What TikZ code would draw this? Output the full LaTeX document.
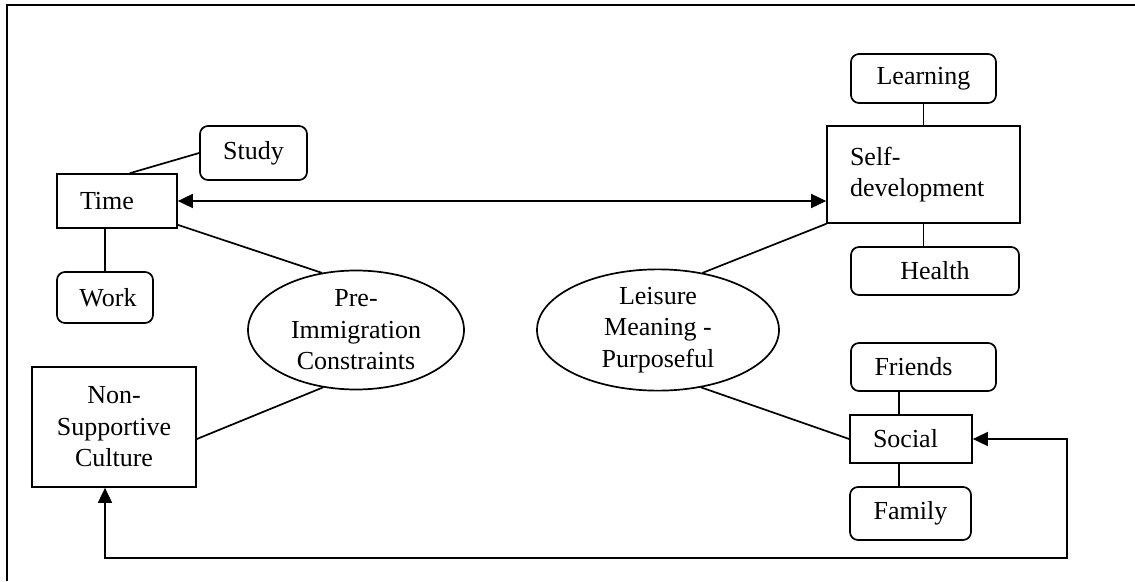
\documentclass[tikz,border=0pt]{standalone}
\usepackage{fontspec}
\setmainfont{Liberation Serif}
\usetikzlibrary{arrows.meta,shapes.geometric,calc}
\begin{document}
\begin{tikzpicture}[x=1pt,y=-1pt,
  every node/.style={font=\fontsize{26}{31.5}\selectfont, inner sep=0pt},
  link/.style={line width=1.7pt, line cap=round},
  arr/.style={line width=1.7pt, {Triangle[length=15pt,width=14pt]}-{Triangle[length=15pt,width=14pt]}},
  sqbox/.style={draw, line width=1.7pt, rectangle, align=center},
  rbox/.style={draw, line width=1.7pt, rectangle, rounded corners=8pt, align=center},
  oval/.style={draw, line width=1.7pt, ellipse, align=center}]
\useasboundingbox (0,0) rectangle (1135,581);
% frame
\draw[line width=2.2pt] (7,581) -- (7,5) -- (1135,5);
% nodes
\node[rbox, minimum width=107pt, minimum height=54pt] (study) at (253.5,153) {Study};
\node[sqbox, minimum width=120pt, minimum height=54pt, text width=74pt, inner xsep=23pt, align=left] (time) at (117,201) {Time};
\node[rbox, minimum width=96pt, minimum height=51pt] (work) at (105,297.5) {\hspace*{6pt}Work};
\node[sqbox, minimum width=164pt, minimum height=120pt] (nonsup) at (114,427) {Non-\\Supportive\\Culture};
\node[oval, minimum width=216pt, minimum height=119pt] (pre) at (356,330) {Pre-\\Immigration\\Constraints};
\node[oval, minimum width=242pt, minimum height=119pt] (leis) at (658,330) {Leisure\\Meaning -\\Purposeful};
\node[rbox, minimum width=145pt, minimum height=49pt] (learn) at (923.5,78.5) {Learning};
\node[sqbox, minimum width=193pt, minimum height=97pt, text width=147pt, inner xsep=23pt, align=left] (self) at (923.5,174.5) {Self-\\development};
\node[rbox, minimum width=168pt, minimum height=48pt] (health) at (935,271) {Health};
\node[rbox, minimum width=145pt, minimum height=48pt] (friends) at (923.5,367) {\hspace*{-20pt}Friends};
\node[sqbox, minimum width=122pt, minimum height=48pt, text width=76pt, inner xsep=23pt, align=left] (social) at (911,439) {Social};
\node[rbox, minimum width=121pt, minimum height=53pt] (family) at (910.5,513.5) {Family};
\coordinate (fbr) at (1067,558);
% connectors
\draw[link] ([xshift=13pt]time.north) -- (study.west);
\draw[link] (work.north) -- (work.north |- time.south);
\draw[link] ([yshift=4pt]time.south east) -- (pre.121);
\draw[link] ([yshift=-12pt]nonsup.east) -- (pre.240);
\draw[arr] (time.east) -- (time.east -| self.west);
\draw[link] (self.south west) -- (leis.52);
\draw[link] (leis.307) -- (social.west);
\draw[link] (learn.south) -- (learn.south |- self.north);
\draw[link] (self.south) -- (self.south |- health.north);
\draw[link] ([xshift=-12pt]social.north) -- ([xshift=-12pt]social.north |- friends.south);
\draw[link] ([xshift=-12pt]social.south) -- ([xshift=-12pt]social.south |- family.north);
\draw[arr, line cap=butt] ([xshift=-9pt]nonsup.south) |- (fbr) |- (social.east);
\end{tikzpicture}
\end{document}
